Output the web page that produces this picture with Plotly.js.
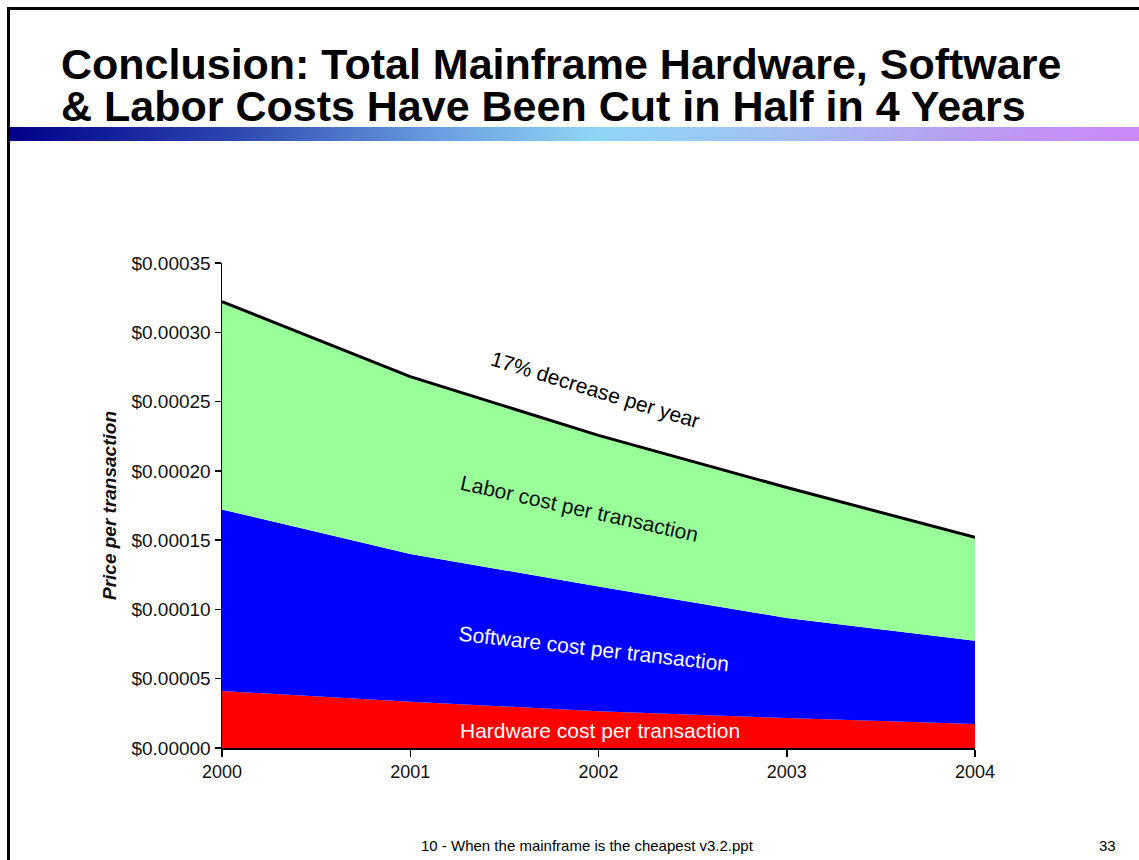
<!DOCTYPE html>
<html>
<head>
<meta charset="utf-8">
<script src="https://cdn.plot.ly/plotly-3.0.1.min.js"></script>
<style>
  html, body { margin: 0; padding: 0; background: #fff; }
  #wrap { position: relative; width: 1139px; height: 860px; overflow: hidden; }
  #chart { position: absolute; left: 0; top: 0; width: 1139px; height: 860px; }
  #bar { position: absolute; left: 10px; top: 127px; width: 1129px; height: 14px;
         background: linear-gradient(to right, #000088 0%, #2c48b0 20%, #6a9ee0 38%, #8ed6f6 52%, #a4bef2 70%, #b89cf2 85%, #cc88f8 100%);
         pointer-events: none; }
  #borderTop { position: absolute; left: 7px; top: 7px; width: 1132px; height: 3px; background: #000; }
  #borderLeft { position: absolute; left: 7px; top: 7px; width: 3px; height: 853px; background: #000; }
</style>
</head>
<body>
<div id="wrap">
  <div id="chart"></div>
  <div id="bar"></div>
  <div id="borderTop"></div>
  <div id="borderLeft"></div>
</div>
<script>
// Data (price per transaction, USD)
const years = [2000, 2001, 2002, 2003, 2004];
const hardwareCost = [0.0000411, 0.0000334, 0.0000266, 0.0000216, 0.0000173];
const softwareCost = [0.000131, 0.0001066, 0.0000900, 0.0000722, 0.0000601];
const laborCost    = [0.000150, 0.000128, 0.000109, 0.0000942, 0.0000746];
const yTickVals = [0, 0.00005, 0.0001, 0.00015, 0.0002, 0.00025, 0.0003, 0.00035];
const yTickText = ['$0.00000', '$0.00005', '$0.00010', '$0.00015', '$0.00020', '$0.00025', '$0.00030', '$0.00035'];
const xTickVals = [2000, 2001, 2002, 2003, 2004];
const xTickText = ['2000', '2001', '2002', '2003', '2004'];

const traces = [
  { x: years, y: hardwareCost, name: 'Hardware', type: 'scatter', mode: 'lines',
    stackgroup: 'one', fillcolor: '#ff0000', line: { width: 0, color: '#ff0000' }, hoverinfo: 'skip' },
  { x: years, y: softwareCost, name: 'Software', type: 'scatter', mode: 'lines',
    stackgroup: 'one', fillcolor: '#0000ff', line: { width: 0, color: '#0000ff' }, hoverinfo: 'skip' },
  { x: years, y: laborCost, name: 'Labor', type: 'scatter', mode: 'lines',
    stackgroup: 'one', fillcolor: '#99ff99', line: { width: 3, color: '#000000' }, hoverinfo: 'skip' }
];

const F = 'Arial, "Liberation Sans", sans-serif';
const layout = {
  width: 1139, height: 860,
  margin: { l: 222, r: 164, t: 263, b: 112 },
  paper_bgcolor: 'rgba(0,0,0,0)',
  plot_bgcolor: 'rgba(0,0,0,0)',
  showlegend: false,
  xaxis: {
    range: [2000, 2004], tickvals: xTickVals, ticktext: xTickText,
    showgrid: false, zeroline: false, showline: true, linecolor: '#000', linewidth: 1.5,
    ticks: 'outside', ticklen: 7, tickcolor: '#000', tickwidth: 1.5,
    tickfont: { family: F, size: 18, color: '#111' }
  },
  yaxis: {
    range: [0, 0.00035], tickvals: yTickVals, ticktext: yTickText,
    showgrid: false, zeroline: false, showline: true, linecolor: '#000', linewidth: 1.5,
    ticks: 'outside', ticklen: 6, tickcolor: '#000', tickwidth: 1.5,
    tickfont: { family: F, size: 19, color: '#111' },
    title: { text: '<b><i>Price per transaction</i></b>', standoff: 10,
             font: { family: F, size: 19, color: '#111' } }
  },
  annotations: [
    { text: '<b>Conclusion: Total Mainframe Hardware, Software</b>',
      xref: 'paper', yref: 'paper', x: -0.2165, y: 1.4093, xanchor: 'left', yanchor: 'middle',
      showarrow: false, font: { family: F, size: 43, color: '#000' } },
    { text: '<b>&amp; Labor Costs Have Been Cut in Half in 4 Years</b>',
      xref: 'paper', yref: 'paper', x: -0.2165, y: 1.3237, xanchor: 'left', yanchor: 'middle',
      showarrow: false, font: { family: F, size: 43, color: '#000' } },
    { text: '17% decrease per year', xref: 'paper', yref: 'paper', x: 0.4954, y: 0.740,
      xanchor: 'center', yanchor: 'middle',
      showarrow: false, textangle: 17, font: { family: F, size: 21, color: '#000' } },
    { text: 'Labor cost per transaction', xref: 'paper', yref: 'paper', x: 0.4754, y: 0.4928,
      xanchor: 'center', yanchor: 'middle',
      showarrow: false, textangle: 12.5, font: { family: F, size: 21, color: '#111' } },
    { text: 'Software cost per transaction', xref: 'paper', yref: 'paper', x: 0.494, y: 0.206,
      xanchor: 'center', yanchor: 'middle',
      showarrow: false, textangle: 6.5, font: { family: F, size: 21, color: '#fff' } },
    { text: 'Hardware cost per transaction', xref: 'paper', yref: 'paper', x: 0.502, y: 0.037,
      xanchor: 'center', yanchor: 'middle',
      showarrow: false, textangle: 0, font: { family: F, size: 21, color: '#fff' } },
    { text: '10 - When the mainframe is the cheapest v3.2.ppt', xref: 'paper', yref: 'paper',
      x: 0.486, y: -0.2, xanchor: 'center', yanchor: 'middle', showarrow: false,
      font: { family: F, size: 15, color: '#000' } },
    { text: '33', xref: 'paper', yref: 'paper', x: 1.1766, y: -0.2, xanchor: 'center', yanchor: 'middle',
      showarrow: false, font: { family: F, size: 15, color: '#000' } }
  ]
};

Plotly.newPlot('chart', traces, layout, { displayModeBar: false, staticPlot: true });
</script>
</body>
</html>
